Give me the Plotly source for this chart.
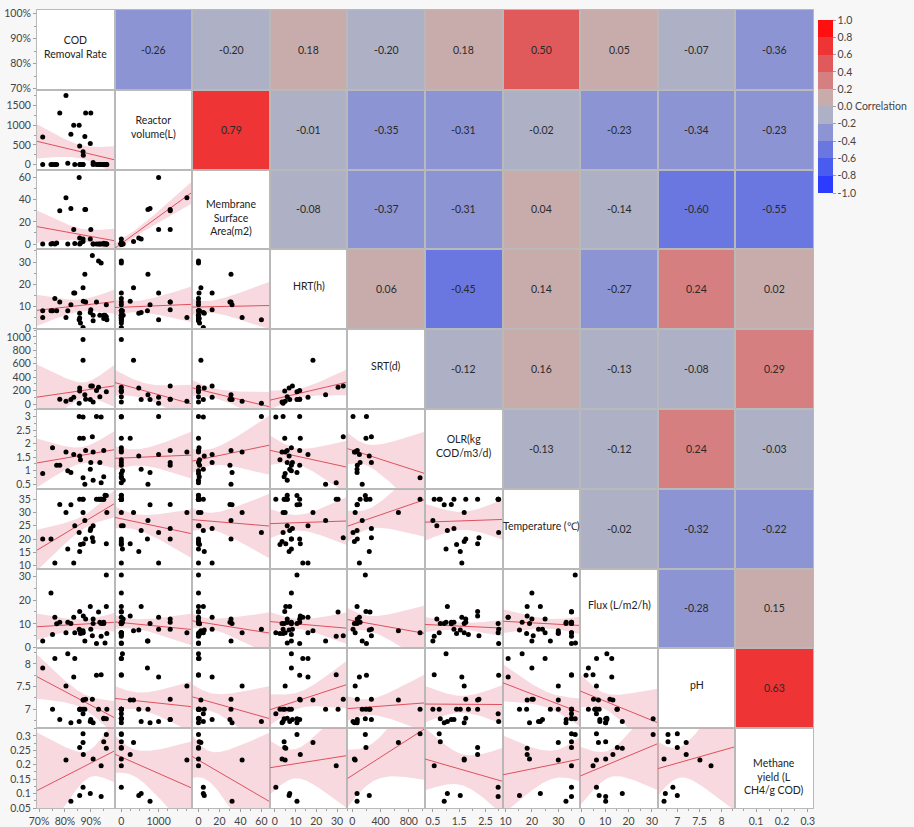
import numpy as np
import plotly.graph_objects as go
from plotly.subplots import make_subplots

# ---- variables (one list per column, None = not reported) ----
labels = ["COD<br>Removal Rate", "Reactor<br>volume(L)", "Membrane<br>Surface<br>Area(m2)", "HRT(h)",
          "SRT(d)", "OLR(kg<br>COD/m3/d)", "Temperature (℃)", "Flux (L/m2/h)", "pH",
          "Methane<br>yield (L<br>CH4/g COD)"]

cod_removal = [0.714, 0.714, 0.746, 0.752, 0.761, 0.768, 0.780, 0.804, 0.811, 0.823,
               0.834, 0.838, 0.855, 0.857, 0.857, 0.860, 0.870, 0.870, 0.870, 0.871,
               0.877, 0.880, 0.898, 0.900, 0.906, 0.909, 0.909, 0.922, 0.930, 0.940,
               0.940, 0.950, 0.955, 0.960, 0.960, 0.962, 0.935, 0.950]
reactor_volume = [700, 0, 0, 0, 0, 0, 1310, 1758, 30, 770,
                  1000, 0, 1000, 0, 468, 0, 0, 327, 0, 238,
                  714, 1310, 532, 1310, None, 0, 50, 0, 0, 0,
                  None, 0, 0, 0, 0, 0, 0, 0]
membrane_area = [None, 0, 0, 0.5, 0, 1, 30, 41.6, 0, 32,
                 13, 0.5, 60, 0, 5.5, 1, None, 2.3, 4.6, None,
                 31, 31, 4.6, 13, None, 0, 0, 0, 0, 0,
                 None, 0.7, 0, 0, 0, 0, 0, 0]
hrt = [8, 5, 8, 8, 13.5, 8, 12, 5, 8, 10.7,
       16, 16, 4, 4.8, 6.9, 2.5, None, 18.4, 0.5, 12.3,
       24.5, 12, 7.2, 8.5, 33, 3.5, 6, 12, 30.5, 29.6,
       None, 4.5, 6, 10.7, 5.3, 4, 6, 6]
srt = [None, None, None, None, None, None, 70, 40, None, 67,
       100, None, 10, 193, 240, None, 960, 653, None, None,
       140, 70, 67, 270, 270, 29, None, 200, 250, None,
       None, None, None, 184, None, None, 110, None]
olr = [None, 0.9, None, 1.85, None, 1.2, 1.2, 1.69, 1.0, 0.93,
       1.6, None, 3.0, 2.2, 1.54, 1.4, 0.74, None, 2.98, 2.2,
       0.5, 1.75, 1.05, 1.3, 2.25, 1.69, 0.65, 3.0, None, 0.55,
       2.98, 0.78, None, None, None, None, 1.3, 1.75]
temperature = [20, None, 20, None, 11, None, 33, 30, 16.3, 32.9,
               11, 25, 22.5, 35, 15.3, 18, 35, 30, 35, 18.2,
               27, 20, 23.2, 24, 20.5, 19.1, 25, 35, 35, 35,
               35, 35, 36.5, 36.4, 18.2, 30, 35, 35]
flux = [2.8, None, 23, 5.5, 12.8, 10, 10.7, 6.25, 10.7, 10.2,
        12.8, 6.3, 7.7, 15.2, 7.4, 6, 6.25, 7.1, 6.25, 13.3,
        2.8, 12, 17.3, 7.7, 5, 10.2, 12, 1.8, 15, 4.8,
        10.2, 10.2, 2.0, 30.5, 17.3, 6, 10.7, 10.7]
ph = [7.91, None, None, 7.0, 8.12, None, 6.77, 7.51, 8.22, 6.70,
      7.71, 8.12, 6.73, 7.0, 7.0, 7.0, 7.0, 7.2, 6.9, 7.2,
      7.0, 7.22, 6.73, 6.77, 7.22, 6.70, None, 7.75, 7.0, 7.76,
      None, 6.79, None, 6.79, None, 7.0, None, 6.8]
methane_yield = [None, None, None, None, None, None, None, 0.217, None, 0.073,
                 None, None, None, 0.26, 0.093, None, 0.308, 0.277, 0.122, 0.236,
                 None, None, 0.10, None, None, 0.22, None, None, None, 0.197,
                 0.09, 0.28, None, 0.305, 0.257, None, None, None]

# pairwise correlations printed in the upper triangle (row, column)
corr_pairs = {
    (0, 1): -0.26, (0, 2): -0.20, (0, 3): 0.18, (0, 4): -0.20, (0, 5): 0.18, (0, 6): 0.50,
    (0, 7): 0.05, (0, 8): -0.07, (0, 9): -0.36,
    (1, 2): 0.79, (1, 3): -0.01, (1, 4): -0.35, (1, 5): -0.31, (1, 6): -0.02, (1, 7): -0.23,
    (1, 8): -0.34, (1, 9): -0.23,
    (2, 3): -0.08, (2, 4): -0.37, (2, 5): -0.31, (2, 6): 0.04, (2, 7): -0.14, (2, 8): -0.60,
    (2, 9): -0.55,
    (3, 4): 0.06, (3, 5): -0.45, (3, 6): 0.14, (3, 7): -0.27, (3, 8): 0.24, (3, 9): 0.02,
    (4, 5): -0.12, (4, 6): 0.16, (4, 7): -0.13, (4, 8): -0.08, (4, 9): 0.29,
    (5, 6): -0.13, (5, 7): -0.12, (5, 8): 0.24, (5, 9): -0.03,
    (6, 7): -0.02, (6, 8): -0.32, (6, 9): -0.22,
    (7, 8): -0.28, (7, 9): 0.15,
    (8, 9): 0.63,
}

# axis ticks per variable
tick_vals = [[0.7, 0.8, 0.9, 1.0], [0, 500, 1000, 1500], [0, 20, 40, 60], [0, 10, 20, 30],
             [0, 200, 400, 600, 800, 1000], [0.5, 1, 1.5, 2, 2.5, 3], [10, 15, 20, 25, 30, 35],
             [0, 10, 20, 30], [7, 7.5, 8], [0.05, 0.1, 0.15, 0.2, 0.25, 0.3]]
tick_text = [["70%", "80%", "90%", "100%"], ["0", "500", "1000", "1500"], ["0", "20", "40", "60"],
             ["0", "10", "20", "30"], ["0", "200", "400", "600", "800", "1000"],
             ["0.5", "1", "1.5", "2", "2.5", "3"], ["10", "15", "20", "25", "30", "35"],
             ["0", "10", "20", "30"], ["7", "7.5", "8"], ["0.05", "0.1", "0.15", "0.2", "0.25", "0.3"]]
x_tick_vals = [[0.7, 0.8, 0.9], [0, 1000], [0, 20, 40, 60], [0, 10, 20, 30], [0, 400, 800],
               [0.5, 1.5, 2.5], [10, 20, 30], [0, 10, 20, 30], [7, 7.5, 8], [0.1, 0.2, 0.3]]
x_tick_text = [["70%", "80%", "90%"], ["0", "1000"], ["0", "20", "40", "60"], ["0", "10", "20", "30"],
               ["0", "400", "800"], ["0.5", "1.5", "2.5"], ["10", "20", "30"], ["0", "10", "20", "30"],
               ["7", "7.5", "8"], ["0.1", "0.2", "0.3"]]
minor_dt = [0.05, 250, 10, 5, 100, 0.25, 5, 5, 0.25, 0.025]
x_minor_dt = [0.05, 250, 10, 5, 200, 0.5, 5, 5, 0.25, 0.05]

x_ranges = [[0.692, 0.992], [-180, 1900], [-6, 68], [-2.4, 35], [-70, 1030], [0.2, 3.15],
            [8.9, 38.3], [-0.7, 32.5], [6.56, 8.31], [0.02, 0.32]]
y_ranges = [[0.695, 1.015], [-130, 1900], [-4.8, 67], [-0.3, 35.7], [-74, 1114], [0.33, 3.28],
            [8.9, 38.9], [-0.3, 33.2], [6.58, 8.34], [0.05, 0.327]]

bin_colors = ["#2B3CFF", "#4A5CF0", "#6B77E0", "#8C94D4", "#AEB0C5",
              "#C8ACAC", "#D57F80", "#E05A5B", "#EE3434", "#FF1010"]

data = [np.array([np.nan if v is None else v for v in col], dtype=float)
        for col in (cod_removal, reactor_volume, membrane_area, hrt, srt, olr,
                    temperature, flux, ph, methane_yield)]
n_var = len(data)


def corr_color(r):
    idx = int(np.floor((r + 1.0) / 0.2 + 1e-9))
    return bin_colors[min(max(idx, 0), 9)]


def t975(df):
    z = 1.959964
    g1 = (z ** 3 + z) / 4
    g2 = (5 * z ** 5 + 16 * z ** 3 + 3 * z) / 96
    g3 = (3 * z ** 7 + 19 * z ** 5 + 17 * z ** 3 - 15 * z) / 384
    return z + g1 / df + g2 / df ** 2 + g3 / df ** 3


fig = make_subplots(rows=n_var, cols=n_var, horizontal_spacing=0, vertical_spacing=0)

FONT = "Segoe UI, Lato, Liberation Sans, sans-serif"
GRID = "#B9B9B9"
TICK_FONT = dict(family=FONT, size=10.5, color="#444444")


def axis_names(i, j):
    k = i * n_var + j + 1
    return ("x" if k == 1 else f"x{k}"), ("y" if k == 1 else f"y{k}")


for i in range(n_var):
    for j in range(n_var):
        xn, yn = axis_names(i, j)
        if i > j:
            x, y = data[j], data[i]
            ok = ~np.isnan(x) & ~np.isnan(y)
            x, y = x[ok], y[ok]
            n = len(x)
            xm = x.mean()
            sxx = ((x - xm) ** 2).sum()
            b1 = ((x - xm) * (y - y.mean())).sum() / sxx
            b0 = y.mean() - b1 * xm
            s = np.sqrt(((y - b0 - b1 * x) ** 2).sum() / (n - 2))
            xs = np.linspace(x_ranges[j][0], x_ranges[j][1], 80)
            fit = b0 + b1 * xs
            half = t975(n - 2) * s * np.sqrt(1.0 / n + (xs - xm) ** 2 / sxx)
            fig.add_trace(go.Scatter(
                x=np.concatenate([xs, xs[::-1]]),
                y=np.concatenate([fit + half, (fit - half)[::-1]]),
                fill="toself", fillcolor="rgba(232,150,165,0.36)", line=dict(width=0),
                mode="lines", hoverinfo="skip", showlegend=False), row=i + 1, col=j + 1)
            fig.add_trace(go.Scatter(x=xs, y=fit, mode="lines",
                                     line=dict(color="#E0505C", width=1),
                                     hoverinfo="skip", showlegend=False), row=i + 1, col=j + 1)
            fig.add_trace(go.Scatter(x=x, y=y, mode="markers",
                                     marker=dict(color="black", size=5),
                                     showlegend=False), row=i + 1, col=j + 1)
        else:
            # empty placeholder so the cell's axes are drawn
            fig.add_trace(go.Scatter(x=[None], y=[None], mode="markers", showlegend=False,
                                     hoverinfo="skip"), row=i + 1, col=j + 1)
            if i < j:
                r = corr_pairs[(i, j)]
                fig.add_shape(type="rect", xref=f"{xn} domain", yref=f"{yn} domain",
                              x0=0, x1=1, y0=0, y1=1, fillcolor=corr_color(r),
                              line=dict(width=0), layer="below")
                fig.add_annotation(xref=f"{xn} domain", yref=f"{yn} domain", x=0.5, y=0.5,
                                   text=f"{r:.2f}", showarrow=False,
                                   font=dict(family=FONT, size=10.5, color="#2A2A2A"))
            else:
                nl = labels[i].count("<br>") + 1
                fig.add_annotation(xref=f"{xn} domain", yref=f"{yn} domain", x=0.5, y=0.5,
                                   text=labels[i], showarrow=False,
                                   yshift=(3 if nl < 3 else -8),
                                   font=dict(family=FONT, size=10.5, color="#222222"))

        xa = dict(showgrid=False, zeroline=False, showline=True, mirror=True,
                  linecolor=GRID, linewidth=1, ticks="", showticklabels=False, automargin=False)
        ya = dict(xa)
        if i >= j:
            xa["range"] = x_ranges[j]
            ya["range"] = y_ranges[i]
        else:
            xa["range"] = [0, 1]
            ya["range"] = [0, 1]
        if i == n_var - 1:
            xa.update(ticks="outside", ticklen=3, tickcolor="#A0A0A0", showticklabels=True,
                      tickangle=0, tickvals=x_tick_vals[j], ticktext=x_tick_text[j],
                      tickfont=TICK_FONT,
                      minor=dict(ticks="outside", ticklen=2, tickcolor="#A0A0A0",
                                 dtick=x_minor_dt[j], tick0=0))
        if j == 0:
            ya.update(ticks="outside", ticklen=3, tickcolor="#A0A0A0", showticklabels=True,
                      tickangle=0, tickvals=tick_vals[i], ticktext=tick_text[i],
                      tickfont=TICK_FONT,
                      minor=dict(ticks="outside", ticklen=2, tickcolor="#A0A0A0",
                                 dtick=minor_dt[i], tick0=0))
        fig.update_xaxes(xa, row=i + 1, col=j + 1)
        fig.update_yaxes(ya, row=i + 1, col=j + 1)

# stepped colour scale for the legend bar
scale = []
for k, c in enumerate(bin_colors):
    scale.append([k / 10, c])
    scale.append([(k + 1) / 10, c])
fig.add_trace(go.Scatter(
    x=[None], y=[None], mode="markers", showlegend=False, hoverinfo="skip",
    marker=dict(color=[0], colorscale=scale, cmin=-1, cmax=1, showscale=True,
                colorbar=dict(x=(818 - 37) / 776, xanchor="left", xpad=0,
                              y=(808 - 20) / 798, yanchor="top", ypad=0,
                              len=173, lenmode="pixels", thickness=15, outlinewidth=0,
                              ticks="outside", ticklen=3, tickcolor="#A0A0A0",
                              tickvals=[1, 0.8, 0.6, 0.4, 0.2, 0, -0.2, -0.4, -0.6, -0.8, -1],
                              ticktext=["1.0", "0.8", "0.6", "0.4", "0.2", "0.0", "-0.2", "-0.4",
                                        "-0.6", "-0.8", "-1.0"],
                              tickfont=TICK_FONT))),
    row=1, col=1)
fig.add_annotation(xref="paper", yref="paper", x=(853 - 37) / 776, y=(808 - 106.5) / 798,
                   xanchor="left", yanchor="middle", text="Correlation", showarrow=False,
                   font=TICK_FONT)

fig.update_layout(width=914, height=827, margin=dict(l=37, r=101, t=10, b=19, autoexpand=False),
                  paper_bgcolor="#F7F7F7", plot_bgcolor="white", showlegend=False)

fig.write_html("out.html")
